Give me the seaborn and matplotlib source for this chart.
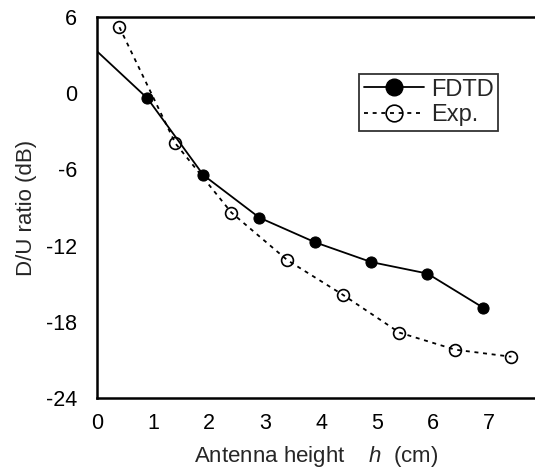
import matplotlib
matplotlib.use("Agg")
import matplotlib.pyplot as plt
import seaborn as sns
import numpy as np
from matplotlib.lines import Line2D

# Data
fdtd_x = [0.0, 0.9, 1.9, 2.9, 3.9, 4.9, 5.9, 6.9]
fdtd_y = [3.3, -0.4, -6.45, -9.8, -11.75, -13.3, -14.2, -16.9]
exp_x = [0.4, 1.4, 2.4, 3.4, 4.4, 5.4, 6.4, 7.4]
exp_y = [5.2, -3.95, -9.4, -13.15, -15.9, -18.85, -20.2, -20.75]
xticks = [0, 1, 2, 3, 4, 5, 6, 7]
yticks = [6, 0, -6, -12, -18, -24]
ytick_labels = ["6", "0", "-6", "-12", "-18", "-24"]

sns.set_style("white")
plt.rcParams['font.family'] = ['Liberation Sans', 'DejaVu Sans']
plt.rcParams['axes.unicode_minus'] = False
plt.rcParams['mathtext.fontset'] = 'custom'
plt.rcParams['mathtext.it'] = 'Liberation Sans:italic'
plt.rcParams['mathtext.rm'] = 'Liberation Sans'

fig = plt.figure(figsize=(5.35, 4.68), dpi=100)
W, H = 535, 468
left, right, top, bottom = 97, 535, 17, 398
ax = fig.add_axes([left / W, 1 - bottom / H, (right - left) / W, (bottom - top) / H])

dash = (0, (2.2, 2.6))
sns.lineplot(x=fdtd_x, y=fdtd_y, ax=ax, color='black', linewidth=1.3,
             marker='o', markersize=8, markerfacecolor='black', markeredgecolor='black',
             markevery=list(range(1, len(fdtd_x))))
sns.lineplot(x=exp_x, y=exp_y, ax=ax, color='black', linewidth=1.3,
             linestyle=dash,
             marker='o', markersize=8.5, markerfacecolor='none', markeredgecolor='black',
             markeredgewidth=1.2)

ax.set_xlim(0, (right - left) / 56.0)
ax.set_ylim(-24, 6)
ax.set_xticks(xticks)
ax.set_xticklabels([str(t) for t in xticks])
ax.set_yticks(yticks)
ax.set_yticklabels(ytick_labels)
ax.tick_params(direction='in', length=11, width=1.4, labelsize=15.5, colors='black')
ax.tick_params(axis='x', pad=11)
ax.tick_params(axis='y', pad=14.5)

for s in ['left', 'bottom', 'top']:
    ax.spines[s].set_visible(True)
    ax.spines[s].set_color('black')
    ax.spines[s].set_linewidth(1.8)
ax.spines['right'].set_visible(False)

ax.set_xlabel("Antenna height    $h$  (cm)", fontsize=16, labelpad=7)
ax.set_ylabel("D/U ratio (dB)", fontsize=16, labelpad=6)

handles = [
    Line2D([], [], color='black', linewidth=1.3, marker='o', markersize=12,
           markerfacecolor='black', markeredgecolor='black'),
    Line2D([], [], color='black', linewidth=1.3, linestyle=dash, marker='o',
           markersize=12, markerfacecolor='none', markeredgecolor='black', markeredgewidth=1.2),
]
leg = ax.legend(handles, ["FDTD", "Exp."], loc='upper left',
                bbox_to_anchor=(359 / W, 1 - 74 / H), bbox_transform=fig.transFigure,
                fontsize=17, frameon=True, fancybox=False, handlelength=2.55,
                handletextpad=0.3, borderpad=0.2, labelspacing=0.15, borderaxespad=0)
leg.get_frame().set_edgecolor('black')
leg.get_frame().set_linewidth(1.3)

fig.savefig("out.png", dpi=100)
